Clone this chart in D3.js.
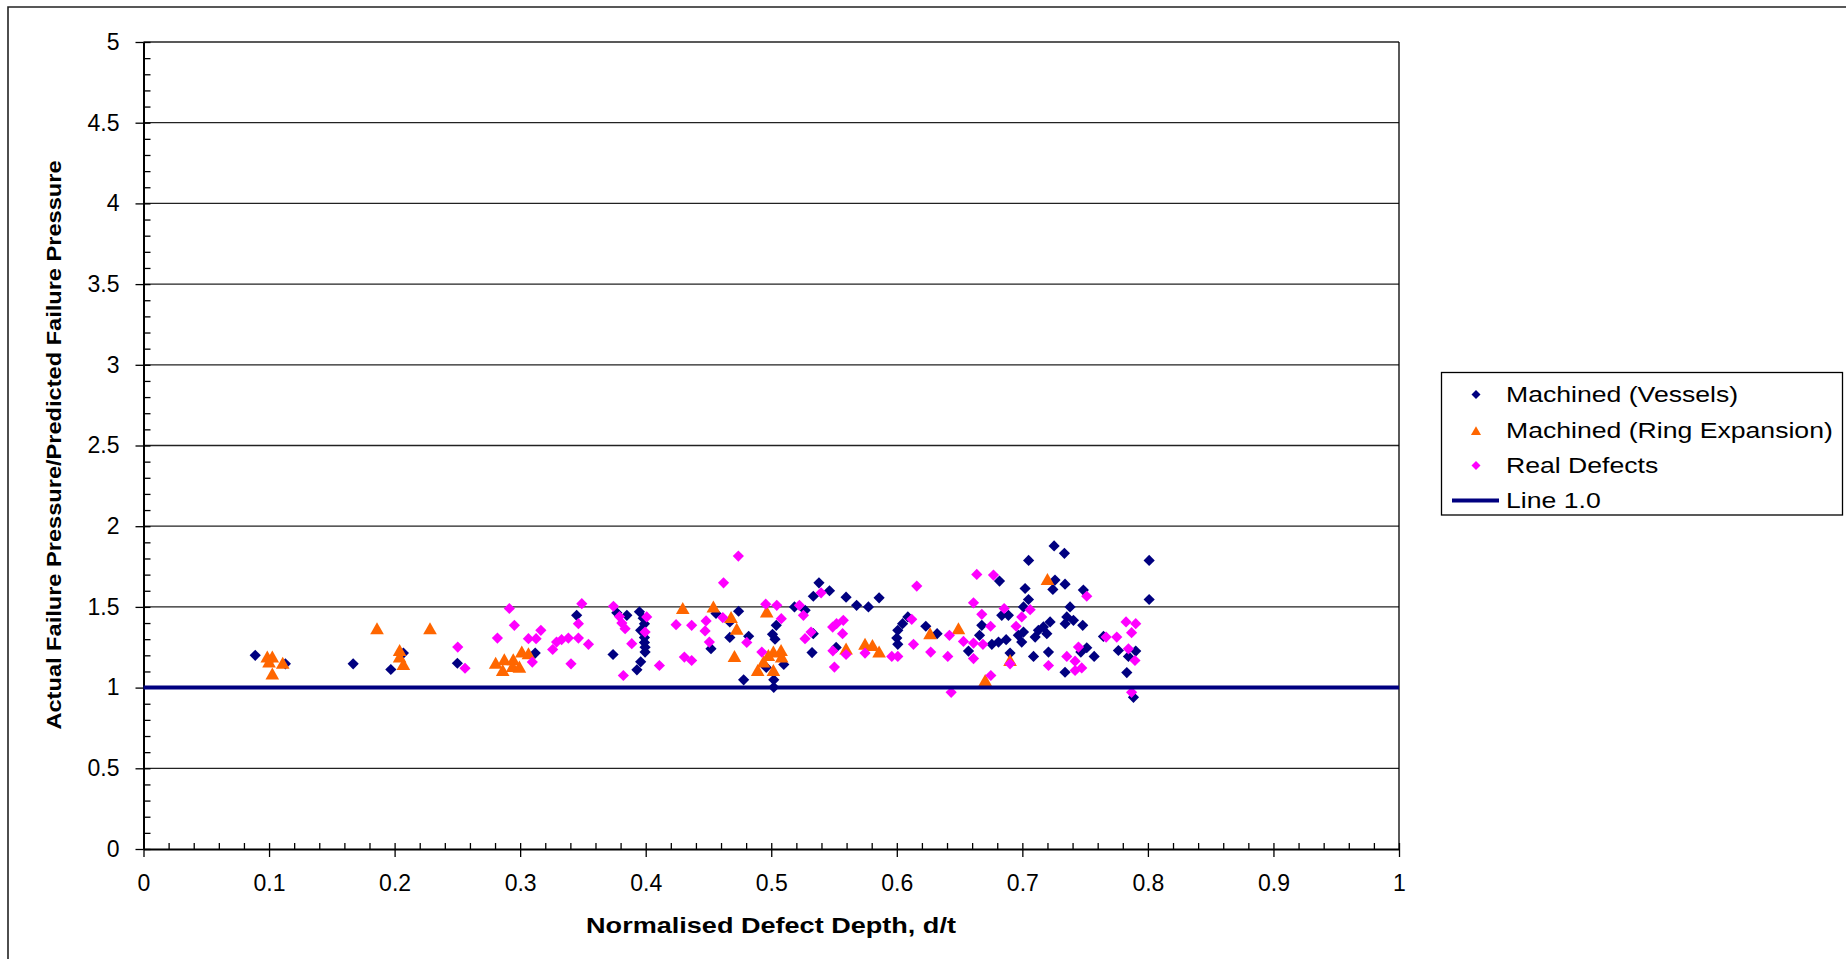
<!DOCTYPE html>
<html>
<head>
<meta charset="utf-8">
<script src="https://cdn.jsdelivr.net/npm/d3@7/dist/d3.min.js"></script>
<style>
  html, body { margin: 0; padding: 0; background: #fff; }
  svg { display: block; }
  text { font-family: "Liberation Sans", Arial, sans-serif; fill: #000; }
</style>
</head>
<body>
<svg id="chart" width="1846" height="959"></svg>
<script>
// ---- data ----
const seriesNames = ["Machined (Vessels)", "Machined (Ring Expansion)", "Real Defects", "Line 1.0"];

const vesselsX = [0.089,0.113,0.167,0.197,0.207,0.250,0.312,0.345,0.374,0.377,0.385,
  0.395,0.398,0.399,0.396,0.399,0.399,0.3995,0.3995,0.396,0.393,
  0.452,0.456,0.467,0.474,0.467,0.482,0.478,
  0.504,0.501,0.503,0.496,0.510,0.502,0.502,0.5185,0.527,0.5335,0.538,0.5464,0.5335,0.5325,0.5517,
  0.5596,0.568,0.5774,0.5859,0.6008,0.600,0.6008,0.6046,0.6088,0.6231,0.6321,0.6571,0.6659,0.6677,0.6818,
  0.6757,0.681,0.6871,0.6836,0.6889,0.6902,0.6968,
  0.7253,0.7335,0.705,0.801,0.726,0.734,0.7243,0.7486,0.801,0.7022,0.7049,0.7009,0.738,0.7354,0.7407,
  0.7481,0.7341,0.7221,0.7168,0.7128,0.7195,0.7102,0.7009,0.6995,0.7089,0.7208,0.7513,0.7572,0.734,
  0.7646,0.7765,0.7845,0.7903,0.7832,0.7885,0.7466];
const vesselsY = [1.20,1.147,1.147,1.112,1.214,1.151,1.214,1.448,1.205,1.463,1.448,
  1.47,1.43,1.395,1.355,1.31,1.28,1.25,1.22,1.16,1.11,
  1.241,1.459,1.407,1.473,1.311,1.318,1.048,
  1.386,1.33,1.30,1.125,1.143,1.048,1.002,1.5,1.479,1.566,1.649,1.6,1.334,1.217,1.249,
  1.56,1.51,1.5,1.556,1.355,1.307,1.268,1.396,1.438,1.38,1.334,1.226,1.324,1.386,1.66,
  1.268,1.282,1.297,1.448,1.448,1.214,1.324,
  1.878,1.832,1.788,1.788,1.666,1.641,1.608,1.604,1.546,1.614,1.546,1.5,1.5,1.438,1.417,
  1.386,1.396,1.407,1.376,1.355,1.334,1.313,1.344,1.282,1.193,1.22,1.247,1.193,1.095,
  1.317,1.23,1.193,1.226,1.093,0.94,1.22];

const ringX = [0.0986,0.1026,0.100,0.1026,0.1109,0.186,0.204,0.204,0.207,0.2282,
  0.2805,0.2874,0.2861,0.2945,0.294,0.2994,0.3013,0.3066,0.4295,0.4539,0.468,0.4725,0.4707,
  0.4964,0.5078,0.5017,0.4977,0.4938,0.4892,0.5017,0.5083,0.5596,0.5747,0.5806,0.5859,
  0.6265,0.6491,0.6704,0.6902,0.72];
const ringY = [1.189,1.19,1.158,1.085,1.151,1.365,1.23,1.19,1.143,1.365,
  1.151,1.172,1.106,1.172,1.131,1.127,1.22,1.21,1.49,1.5,1.434,1.361,1.193,
  1.469,1.23,1.22,1.199,1.158,1.106,1.106,1.19,1.239,1.268,1.261,1.22,
  1.334,1.365,1.044,1.168,1.67];

const realX = [0.2503,0.2561,0.2819,0.2914,0.2954,0.3097,0.3066,0.3127,0.3165,0.3259,0.329,0.333,
  0.3384,0.3464,0.3464,0.3491,0.3544,0.3405,
  0.3743,0.3791,0.381,0.3836,0.4008,0.3995,0.3889,0.4109,0.3822,0.4242,
  0.4366,0.4308,0.4366,0.4481,0.4473,0.4507,0.462,
  0.4738,0.4614,0.4805,0.4925,0.4956,0.5044,0.5224,0.5256,0.5397,0.508,0.5269,0.5317,
  0.5489,0.552,0.5574,0.5568,0.5491,0.5596,0.5503,0.5747,0.596,0.6008,0.6119,0.6133,0.6159,
  0.627,0.6419,0.6406,0.6433,0.6531,0.6611,0.6611,0.6686,0.6747,0.6677,0.6611,0.6637,0.677,
  0.6749,0.6855,0.6902,0.695,
  0.7513,0.7062,0.6995,0.7208,0.7447,0.7354,0.742,0.7473,0.742,0.7667,0.7752,0.7845,
  0.7826,0.7903,0.787,0.7897,0.787];
const realY = [1.251,1.12,1.307,1.49,1.386,1.158,1.303,1.303,1.355,1.236,1.282,1.297,
  1.307,1.307,1.396,1.52,1.268,1.147,
  1.504,1.44,1.40,1.365,1.438,1.344,1.272,1.137,1.075,1.39,
  1.386,1.189,1.168,1.413,1.351,1.282,1.649,
  1.815,1.434,1.28,1.22,1.517,1.51,1.51,1.448,1.587,1.427,1.303,1.344,
  1.375,1.396,1.417,1.334,1.228,1.205,1.127,1.214,1.193,1.193,1.423,1.268,1.629,
  1.22,1.324,1.193,0.971,1.286,1.18,1.276,1.268,1.38,1.454,1.525,1.701,1.697,
  1.075,1.49,1.147,1.38,
  1.566,1.483,1.438,1.137,1.251,1.193,1.164,1.122,1.106,1.313,1.313,1.24,
  1.407,1.396,1.34,1.168,0.971];

const lineX = [0, 1];
const lineY = [1.0, 1.0];

const xTickValues = [0,0.1,0.2,0.3,0.4,0.5,0.6,0.7,0.8,0.9,1];
const xTickLabels = ["0","0.1","0.2","0.3","0.4","0.5","0.6","0.7","0.8","0.9","1"];
const yTickValues = [0,0.5,1,1.5,2,2.5,3,3.5,4,4.5,5];
const yTickLabels = ["0","0.5","1","1.5","2","2.5","3","3.5","4","4.5","5"];

const xTitle = "Normalised Defect Depth, d/t";
const yTitle = "Actual Failure Pressure/Predicted Failure Pressure";

// ---- drawing ----
const svg = d3.select("#chart");
const L = 143.5, R = 1399, T = 42, B = 849;
const x = d3.scaleLinear().domain([0, 1]).range([L, R]);
const y = d3.scaleLinear().domain([0, 5]).range([B, T]);

const colVessels = "#000080", colRing = "#FF6600", colReal = "#FF00FF", colLine = "#000080";

// outer border (left & top visible)
svg.append("path").attr("d", "M8,960 L8,7 L1850,7")
  .attr("fill", "none").attr("stroke", "#222").attr("stroke-width", 1.6);

// gridlines
svg.append("g").selectAll("line").data(yTickValues.filter(v => v > 0)).join("line")
  .attr("x1", L).attr("x2", R).attr("y1", d => y(d)).attr("y2", d => y(d))
  .attr("stroke", "#222").attr("stroke-width", 1.3);

// plot right border
svg.append("line").attr("x1", R).attr("x2", R).attr("y1", T).attr("y2", B)
  .attr("stroke", "#000").attr("stroke-width", 1.3);

const tickFont = "23px";

// y axis
const yMinor = d3.range(0, 5.0001, 0.1);
svg.append("g").attr("transform", `translate(${L},0)`)
  .call(d3.axisRight(y).tickValues(yMinor).tickSize(7).tickFormat(""))
  .call(g => g.select(".domain").remove())
  .selectAll("line").attr("stroke", "#000").attr("stroke-width", 1.3);
const yAx = svg.append("g").attr("transform", `translate(${L},0)`)
  .call(d3.axisLeft(y).tickValues(yTickValues).tickSize(8).tickSizeOuter(0).tickPadding(16)
        .tickFormat((d, i) => yTickLabels[i]));
yAx.select(".domain").attr("stroke", "#000").attr("stroke-width", 2);
yAx.selectAll("line").attr("stroke", "#000").attr("stroke-width", 1.3);
yAx.selectAll("text").style("font-size", tickFont).attr("fill", "#000")
  .style("font-family", "'Liberation Sans', Arial, sans-serif");

// x axis
const xMinor = d3.range(0, 1.0001, 0.02);
svg.append("g").attr("transform", `translate(0,${B})`)
  .call(d3.axisTop(x).tickValues(xMinor).tickSize(6).tickFormat(""))
  .call(g => g.select(".domain").remove())
  .selectAll("line").attr("stroke", "#000").attr("stroke-width", 1.3);
const xAx = svg.append("g").attr("transform", `translate(0,${B})`)
  .call(d3.axisBottom(x).tickValues(xTickValues).tickSize(8).tickSizeOuter(0).tickPadding(18)
        .tickFormat((d, i) => xTickLabels[i]));
xAx.select(".domain").attr("stroke", "#000").attr("stroke-width", 2);
xAx.selectAll("line").attr("stroke", "#000").attr("stroke-width", 1.3);
xAx.selectAll("text").style("font-size", tickFont).attr("fill", "#000")
  .style("font-family", "'Liberation Sans', Arial, sans-serif");

// axis titles (horizontally stretched like the reference)
svg.append("text").attr("transform", "translate(771,933) scale(1.23,1)").attr("text-anchor", "middle")
  .style("font-size", "22px").style("font-weight", "bold").text(xTitle);
svg.append("text").attr("transform", "translate(61,445) rotate(-90) scale(1.124,1)").attr("text-anchor", "middle")
  .style("font-size", "21px").style("font-weight", "bold").text(yTitle);

// markers
const diamond = s => `M0,${-s}L${s},0L0,${s}L${-s},0Z`;
const tri = s => `M0,${-s}L${s*1.05},${s*0.85}L${-s*1.05},${s*0.85}Z`;

const vessels = vesselsX.map((v, i) => [v, vesselsY[i]]);
const ring = ringX.map((v, i) => [v, ringY[i]]);
const real = realX.map((v, i) => [v, realY[i]]);

svg.append("g").selectAll("path").data(vessels).join("path")
  .attr("transform", d => `translate(${x(d[0])},${y(d[1])})`)
  .attr("d", diamond(5.6)).attr("fill", colVessels);
svg.append("g").selectAll("path").data(ring).join("path")
  .attr("transform", d => `translate(${x(d[0])},${y(d[1])})`)
  .attr("d", tri(6.5)).attr("fill", colRing);
svg.append("g").selectAll("path").data(real).join("path")
  .attr("transform", d => `translate(${x(d[0])},${y(d[1])})`)
  .attr("d", diamond(5.6)).attr("fill", colReal);

// line 1.0
svg.append("path")
  .datum(lineX.map((v, i) => [v, lineY[i]]))
  .attr("d", d3.line().x(d => x(d[0])).y(d => y(d[1])))
  .attr("stroke", colLine).attr("stroke-width", 4).attr("fill", "none");

// legend
const lg = svg.append("g");
lg.append("rect").attr("x", 1441.5).attr("y", 372.5).attr("width", 401).attr("height", 142.5)
  .attr("fill", "#fff").attr("stroke", "#000").attr("stroke-width", 1.3);
const rowsY = [394.5, 430, 465.5, 500.5];
const legendItems = [
  {name: seriesNames[0], type: "diamond", color: colVessels},
  {name: seriesNames[1], type: "tri", color: colRing},
  {name: seriesNames[2], type: "diamond", color: colReal},
  {name: seriesNames[3], type: "line", color: colLine}
];
legendItems.forEach((it, i) => {
  const cy = rowsY[i];
  if (it.type === "diamond") {
    lg.append("path").attr("transform", `translate(1476,${cy})`).attr("d", diamond(4.5)).attr("fill", it.color);
  } else if (it.type === "tri") {
    lg.append("path").attr("transform", `translate(1476,${cy + 1})`).attr("d", tri(4.8)).attr("fill", it.color);
  } else {
    lg.append("line").attr("x1", 1452).attr("x2", 1499).attr("y1", cy).attr("y2", cy)
      .attr("stroke", it.color).attr("stroke-width", 4);
  }
  lg.append("text").attr("transform", `translate(1506,${cy}) scale(1.21,1)`).attr("dy", "0.35em")
    .style("font-size", "22px").text(it.name);
});
</script>
</body>
</html>
